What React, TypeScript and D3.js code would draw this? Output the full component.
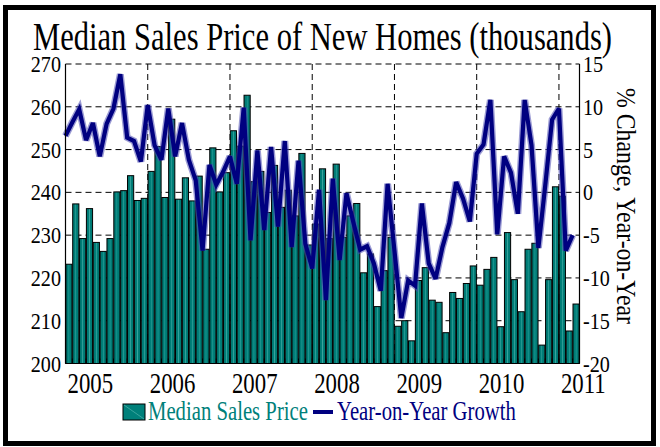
import React from "react";
import * as d3 from "d3";

const years = ["2005", "2006", "2007", "2008", "2009", "2010", "2011"];

// Monthly median sales price (thousands), Jan 2005 - Mar 2011
const price2005 = [223.2, 237.3, 229.2, 236.2, 228.3, 226.2, 229.2, 240.1, 240.4, 243.9, 238.1, 238.6];
const price2006 = [244.9, 250.7, 238.8, 257.1, 238.4, 243.4, 238.0, 243.8, 226.7, 250.4, 240.1, 244.6];
const price2007 = [254.4, 250.8, 262.7, 242.5, 244.9, 235.3, 246.3, 236.5, 240.5, 234.5, 249.1, 227.7];
const price2008 = [232.6, 245.5, 229.2, 246.6, 229.5, 234.5, 237.4, 221.2, 225.6, 213.3, 221.7, 229.5];
const price2009 = [208.7, 210.0, 205.3, 219.4, 222.4, 214.8, 214.3, 207.2, 216.6, 215.2, 218.7, 222.8];
const price2010 = [218.3, 222.0, 224.8, 208.6, 230.6, 219.6, 212.1, 226.7, 228.1, 204.3, 219.6, 241.3];
const price2011 = [239.1, 207.6, 213.9];

// Year-on-year growth (%)
const yoy2005 = [6.6, 8.2, 9.7, 6.1, 8.1, 4.2, 8.0, 9.8, 13.8, 6.4, 6.0, 3.6];
const yoy2006 = [10.2, 5.5, 3.8, 9.8, 4.2, 8.1, 3.8, 1.4, -6.8, 3.2, 0.9, 2.4];
const yoy2007 = [4.2, 1.0, 9.9, -5.6, 4.9, -4.4, 5.3, -4.0, 6.0, -6.4, 3.7, -6.0];
const yoy2008 = [-8.9, 0.3, -12.6, 1.6, -7.9, -0.1, -3.5, -6.7, -6.3, -8.3, -11.5, 1.0];
const yoy2009 = [-6.8, -14.7, -10.3, -10.9, -1.3, -8.3, -10.1, -6.4, -3.6, 1.2, -0.7, -3.4];
const yoy2010 = [4.5, 5.6, 10.8, -4.9, 4.2, 2.3, -2.5, 10.8, 5.5, -6.5, 0.8, 8.5];
const yoy2011 = [9.8, -6.8, -5.0];

const leftTicks = [200, 210, 220, 230, 240, 250, 260, 270];
const rightTicks = [-20, -15, -10, -5, 0, 5, 10, 15];

const prices = [...price2005, ...price2006, ...price2007, ...price2008, ...price2009, ...price2010, ...price2011];
const growth = [...yoy2005, ...yoy2006, ...yoy2007, ...yoy2008, ...yoy2009, ...yoy2010, ...yoy2011];

const W = 660, H = 447;
const L = 65.5, R = 579.5, T = 64, B = 363.5;
const TEAL = "#00807a";
const NAVY = "#000080";
const SERIF = "'Liberation Serif', 'Times New Roman', serif";

export default function App() {
  const months = d3.range(prices.length);
  const x = d3.scaleBand<number>().domain(months).range([L, R]).paddingInner(0.1).paddingOuter(0.05);
  const step = (R - L) / prices.length;
  const edge = (i: number) => L + i * step;
  const y = d3.scaleLinear().domain([200, 270]).range([B, T]);
  const y2 = d3.scaleLinear().domain([-20, 15]).range([B, T]);
  const line = d3.line<number>().x((_, i) => edge(i)).y((d) => y2(d));

  return (
    <div style={{ position: "absolute", left: 0, top: 0 }}>
      <svg width={W} height={H} style={{ display: "block", background: "#fff" }} fontFamily={SERIF}>
        <defs>
          <linearGradient id="barg" x1="0" x2="1" y1="0" y2="0">
            <stop offset="0" stopColor="#00736d" />
            <stop offset="0.4" stopColor={TEAL} />
            <stop offset="0.5" stopColor="#3aa49d" />
            <stop offset="0.6" stopColor={TEAL} />
            <stop offset="1" stopColor="#00736d" />
          </linearGradient>
        </defs>
        <rect x={5.5} y={7.5} width={648} height={436} fill="#fff" stroke="#000" strokeWidth={5} />

        <text x={322.5} y={50} fontSize={41} textAnchor="middle" textLength={579} lengthAdjust="spacingAndGlyphs" fill="#000">
          Median Sales Price of New Homes (thousands)
        </text>

        {/* gridlines */}
        {leftTicks.filter((t) => t > 200).map((t) => (
          <line key={"h" + t} x1={L} x2={R} y1={y(t)} y2={y(t)} stroke="#000" strokeWidth={1} strokeDasharray="6,4" />
        ))}
        {years.slice(1).map((yr, i) => (
          <line key={"v" + yr} x1={edge((i + 1) * 12)} x2={edge((i + 1) * 12)} y1={T} y2={B} stroke="#000" strokeWidth={1} strokeDasharray="6,4" />
        ))}

        {/* bars */}
        {prices.map((v, i) => (
          <rect key={"b" + i} x={x(i)} y={y(v)} width={x.bandwidth()} height={B - y(v)} fill="url(#barg)" stroke="#000" strokeWidth={1} />
        ))}

        {/* line */}
        <path d={line(growth) || ""} fill="none" stroke="#4a4ab0" strokeOpacity={0.55} strokeWidth={7} strokeLinejoin="miter" strokeMiterlimit={3} />
        <path d={line(growth) || ""} fill="none" stroke={NAVY} strokeWidth={4.2} strokeLinejoin="miter" strokeMiterlimit={3} />

        {/* axes */}
        <line x1={L} x2={L} y1={T} y2={B} stroke="#000" strokeWidth={1.2} />
        <line x1={R} x2={R} y1={T} y2={B} stroke="#000" strokeWidth={1.2} />
        <line x1={L} x2={R} y1={B} y2={B} stroke="#000" strokeWidth={1.2} />
        {d3.range(prices.length + 1).map((i) => (
          <line key={"t" + i} x1={edge(i)} x2={edge(i)} y1={B} y2={B - 5} stroke="#000" strokeWidth={1} />
        ))}

        {leftTicks.map((t) => (
          <text key={"l" + t} transform={`translate(61,${y(t) + 8}) scale(0.84,1)`} fontSize={24} textAnchor="end" fill="#000">
            {t}
          </text>
        ))}
        {rightTicks.map((t) => (
          <text key={"r" + t} transform={`translate(583,${y2(t) + 8}) scale(0.84,1)`} fontSize={24} textAnchor="start" fill="#000">
            {t}
          </text>
        ))}
        {years.map((yr, i) => (
          <text key={"y" + yr} transform={`translate(${edge(i * 12) + 2},393) scale(0.76,1)`} fontSize={30} textAnchor="start" fill="#000">
            {yr}
          </text>
        ))}

        <text transform={`translate(617,206) rotate(90)`} fontSize={27} textAnchor="middle" textLength={236} lengthAdjust="spacingAndGlyphs" fill="#000">
          % Change, Year-on-Year
        </text>

        {/* legend */}
        <rect x={123} y={404} width={22} height={16} fill={TEAL} stroke="#000" strokeWidth={1} />
        <line x1={124} y1={405} x2={144} y2={419} stroke="#3aa49d" strokeWidth={1} />
        <text transform="translate(148,420) scale(0.74,1)" fontSize={28} fill={TEAL}>
          Median Sales Price
        </text>
        <line x1={313} x2={333} y1={412} y2={412} stroke={NAVY} strokeWidth={4} />
        <text transform="translate(337,420) scale(0.74,1)" fontSize={28} fill={NAVY}>
          Year-on-Year Growth
        </text>
      </svg>
    </div>
  );
}
